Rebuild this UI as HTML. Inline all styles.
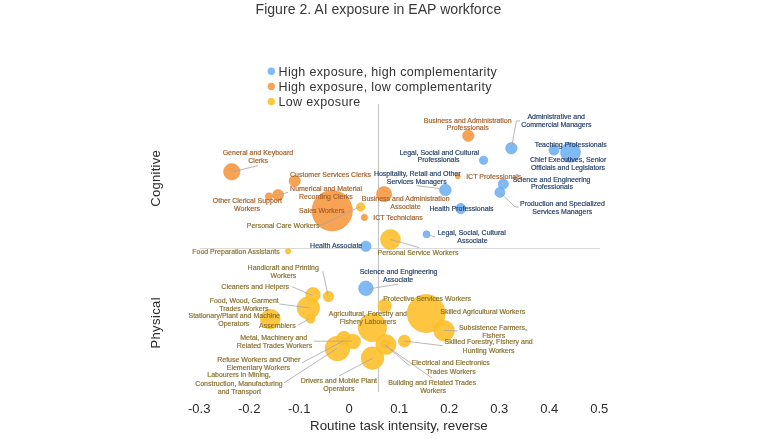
<!DOCTYPE html>
<html><head><meta charset="utf-8"><style>
html,body{margin:0;padding:0;background:#fff;width:780px;height:439px;overflow:hidden}
svg{display:block;filter:blur(0.3px)}
text{font-family:"Liberation Sans",sans-serif}
.l{font-size:7px;stroke-width:0.18px;paint-order:stroke}
</style></head><body>
<svg width="780" height="439" viewBox="0 0 780 439">
<rect width="780" height="439" fill="#fff"/>
<text x="378.4" y="13.7" text-anchor="middle" font-size="14.1" fill="#3a3a3a">Figure 2. AI exposure in EAP workforce</text>
<circle cx="271.3" cy="71.2" r="3.7" fill="#72B2F4" fill-opacity="0.9"/>
<text x="278.5" y="75.5" font-size="12.5" letter-spacing="0.35" fill="#333">High exposure, high complementarity</text>
<circle cx="271.3" cy="86.4" r="3.7" fill="#F79941" fill-opacity="0.9"/>
<text x="278.5" y="90.7" font-size="12.5" letter-spacing="0.35" fill="#333">High exposure, low complementarity</text>
<circle cx="271.3" cy="101.6" r="3.7" fill="#FEC02B" fill-opacity="0.9"/>
<text x="278.5" y="105.9" font-size="12.5" letter-spacing="0.35" fill="#333">Low exposure</text>
<line x1="199.5" y1="248.5" x2="600" y2="248.5" stroke="#DADADA" stroke-width="1"/>
<line x1="378.5" y1="104" x2="378.5" y2="392" stroke="#C4C4C4" stroke-width="1.1"/>
<circle cx="426.2" cy="313.6" r="19.0" fill="#fff"/>
<circle cx="372.4" cy="327.5" r="14.2" fill="#fff"/>
<circle cx="337.5" cy="348.5" r="12.3" fill="#fff"/>
<circle cx="344.0" cy="338.2" r="6.9" fill="#fff"/>
<circle cx="353.2" cy="341.5" r="7.3" fill="#fff"/>
<circle cx="372.5" cy="358.1" r="11.3" fill="#fff"/>
<circle cx="385.9" cy="344.6" r="10.0" fill="#fff"/>
<circle cx="384.9" cy="344.3" r="4.0" fill="#fff"/>
<circle cx="404.4" cy="341.0" r="6.0" fill="#fff"/>
<circle cx="444.1" cy="330.7" r="10.3" fill="#fff"/>
<circle cx="384.7" cy="305.8" r="6.8" fill="#fff"/>
<circle cx="308.4" cy="307.9" r="11.2" fill="#fff"/>
<circle cx="313.0" cy="294.7" r="7.2" fill="#fff"/>
<circle cx="328.4" cy="296.5" r="5.2" fill="#fff"/>
<circle cx="310.6" cy="318.7" r="4.5" fill="#fff"/>
<circle cx="270.3" cy="319.1" r="9.9" fill="#fff"/>
<circle cx="288.1" cy="251.3" r="2.7" fill="#fff"/>
<circle cx="390.5" cy="239.5" r="10.0" fill="#fff"/>
<circle cx="360.7" cy="207.0" r="4.3" fill="#fff"/>
<circle cx="332.2" cy="210.7" r="20.2" fill="#fff"/>
<circle cx="231.8" cy="171.8" r="8.2" fill="#fff"/>
<circle cx="294.7" cy="181.0" r="5.6" fill="#fff"/>
<circle cx="278.1" cy="195.0" r="5.5" fill="#fff"/>
<circle cx="269.0" cy="196.4" r="3.6" fill="#fff"/>
<circle cx="384.1" cy="194.2" r="7.6" fill="#fff"/>
<circle cx="364.4" cy="217.4" r="3.1" fill="#fff"/>
<circle cx="457.8" cy="176.3" r="2.5" fill="#fff"/>
<circle cx="468.3" cy="135.7" r="5.7" fill="#fff"/>
<circle cx="511.4" cy="148.3" r="5.7" fill="#fff"/>
<circle cx="483.6" cy="160.3" r="4.1" fill="#fff"/>
<circle cx="554.0" cy="150.1" r="5.0" fill="#fff"/>
<circle cx="570.5" cy="152.4" r="9.9" fill="#fff"/>
<circle cx="503.3" cy="184.0" r="5.1" fill="#fff"/>
<circle cx="499.9" cy="192.4" r="5.0" fill="#fff"/>
<circle cx="445.4" cy="190.0" r="5.8" fill="#fff"/>
<circle cx="460.8" cy="208.6" r="5.1" fill="#fff"/>
<circle cx="426.5" cy="234.3" r="3.5" fill="#fff"/>
<circle cx="365.8" cy="246.2" r="5.2" fill="#fff"/>
<circle cx="365.9" cy="288.3" r="7.2" fill="#fff"/>
<circle cx="426.2" cy="313.6" r="19.0" fill="#FEC02B" fill-opacity="0.9" stroke="#F7B825" stroke-width="0.6"/>
<circle cx="372.4" cy="327.5" r="14.2" fill="#FEC02B" fill-opacity="0.9" stroke="#F7B825" stroke-width="0.6"/>
<circle cx="337.5" cy="348.5" r="12.3" fill="#FEC02B" fill-opacity="0.9" stroke="#F7B825" stroke-width="0.6"/>
<circle cx="344.0" cy="338.2" r="6.9" fill="#FEC02B" fill-opacity="0.9" stroke="#F7B825" stroke-width="0.6"/>
<circle cx="353.2" cy="341.5" r="7.3" fill="#FEC02B" fill-opacity="0.9" stroke="#F7B825" stroke-width="0.6"/>
<circle cx="372.5" cy="358.1" r="11.3" fill="#FEC02B" fill-opacity="0.9" stroke="#F7B825" stroke-width="0.6"/>
<circle cx="385.9" cy="344.6" r="10.0" fill="#FEC02B" fill-opacity="0.9" stroke="#F7B825" stroke-width="0.6"/>
<circle cx="384.9" cy="344.3" r="4.0" fill="#FEC02B" fill-opacity="0.9" stroke="#F7B825" stroke-width="0.6"/>
<circle cx="404.4" cy="341.0" r="6.0" fill="#FEC02B" fill-opacity="0.9" stroke="#F7B825" stroke-width="0.6"/>
<circle cx="444.1" cy="330.7" r="10.3" fill="#FEC02B" fill-opacity="0.9" stroke="#F7B825" stroke-width="0.6"/>
<circle cx="384.7" cy="305.8" r="6.8" fill="#FEC02B" fill-opacity="0.9" stroke="#F7B825" stroke-width="0.6"/>
<circle cx="308.4" cy="307.9" r="11.2" fill="#FEC02B" fill-opacity="0.9" stroke="#F7B825" stroke-width="0.6"/>
<circle cx="313.0" cy="294.7" r="7.2" fill="#FEC02B" fill-opacity="0.9" stroke="#F7B825" stroke-width="0.6"/>
<circle cx="328.4" cy="296.5" r="5.2" fill="#FEC02B" fill-opacity="0.9" stroke="#F7B825" stroke-width="0.6"/>
<circle cx="310.6" cy="318.7" r="4.5" fill="#FEC02B" fill-opacity="0.9" stroke="#F7B825" stroke-width="0.6"/>
<circle cx="270.3" cy="319.1" r="9.9" fill="#FEC02B" fill-opacity="0.9" stroke="#F7B825" stroke-width="0.6"/>
<circle cx="288.1" cy="251.3" r="2.7" fill="#FEC02B" fill-opacity="0.9" stroke="#F7B825" stroke-width="0.6"/>
<circle cx="390.5" cy="239.5" r="10.0" fill="#FEC02B" fill-opacity="0.9" stroke="#F7B825" stroke-width="0.6"/>
<circle cx="360.7" cy="207.0" r="4.3" fill="#FEC02B" fill-opacity="0.9" stroke="#F7B825" stroke-width="0.6"/>
<circle cx="332.2" cy="210.7" r="20.2" fill="#F79941" fill-opacity="0.9" stroke="#F0903A" stroke-width="0.6"/>
<circle cx="231.8" cy="171.8" r="8.2" fill="#F79941" fill-opacity="0.9" stroke="#F0903A" stroke-width="0.6"/>
<circle cx="294.7" cy="181.0" r="5.6" fill="#F79941" fill-opacity="0.9" stroke="#F0903A" stroke-width="0.6"/>
<circle cx="278.1" cy="195.0" r="5.5" fill="#F79941" fill-opacity="0.9" stroke="#F0903A" stroke-width="0.6"/>
<circle cx="269.0" cy="196.4" r="3.6" fill="#F79941" fill-opacity="0.9" stroke="#F0903A" stroke-width="0.6"/>
<circle cx="384.1" cy="194.2" r="7.6" fill="#F79941" fill-opacity="0.9" stroke="#F0903A" stroke-width="0.6"/>
<circle cx="364.4" cy="217.4" r="3.1" fill="#F79941" fill-opacity="0.9" stroke="#F0903A" stroke-width="0.6"/>
<circle cx="457.8" cy="176.3" r="2.5" fill="#F79941" fill-opacity="0.9" stroke="#F0903A" stroke-width="0.6"/>
<circle cx="468.3" cy="135.7" r="5.7" fill="#F79941" fill-opacity="0.9" stroke="#F0903A" stroke-width="0.6"/>
<circle cx="511.4" cy="148.3" r="5.7" fill="#72B2F4" fill-opacity="0.9" stroke="#62A5EC" stroke-width="0.6"/>
<circle cx="483.6" cy="160.3" r="4.1" fill="#72B2F4" fill-opacity="0.9" stroke="#62A5EC" stroke-width="0.6"/>
<circle cx="554.0" cy="150.1" r="5.0" fill="#72B2F4" fill-opacity="0.9" stroke="#62A5EC" stroke-width="0.6"/>
<circle cx="570.5" cy="152.4" r="9.9" fill="#72B2F4" fill-opacity="0.9" stroke="#62A5EC" stroke-width="0.6"/>
<circle cx="503.3" cy="184.0" r="5.1" fill="#72B2F4" fill-opacity="0.9" stroke="#62A5EC" stroke-width="0.6"/>
<circle cx="499.9" cy="192.4" r="5.0" fill="#72B2F4" fill-opacity="0.9" stroke="#62A5EC" stroke-width="0.6"/>
<circle cx="445.4" cy="190.0" r="5.8" fill="#72B2F4" fill-opacity="0.9" stroke="#62A5EC" stroke-width="0.6"/>
<circle cx="460.8" cy="208.6" r="5.1" fill="#72B2F4" fill-opacity="0.9" stroke="#62A5EC" stroke-width="0.6"/>
<circle cx="426.5" cy="234.3" r="3.5" fill="#72B2F4" fill-opacity="0.9" stroke="#62A5EC" stroke-width="0.6"/>
<circle cx="365.8" cy="246.2" r="5.2" fill="#72B2F4" fill-opacity="0.9" stroke="#62A5EC" stroke-width="0.6"/>
<circle cx="365.9" cy="288.3" r="7.2" fill="#72B2F4" fill-opacity="0.9" stroke="#62A5EC" stroke-width="0.6"/>
<polyline points="232,172 258,165.6" fill="none" stroke="#A6A6A6" stroke-width="0.8"/>
<polyline points="278,195 288.2,192.3" fill="none" stroke="#A6A6A6" stroke-width="0.8"/>
<polyline points="320,225.6 360.5,206.5" fill="none" stroke="#A6A6A6" stroke-width="0.8"/>
<polyline points="416.7,185.6 440.3,188.7" fill="none" stroke="#A6A6A6" stroke-width="0.8"/>
<polyline points="511.4,148 516.4,121 520,120.9" fill="none" stroke="#A6A6A6" stroke-width="0.8"/>
<polyline points="499.9,192.4 514.7,206.7 518.8,207.2" fill="none" stroke="#A6A6A6" stroke-width="0.8"/>
<polyline points="428,234.9 435.1,236.9" fill="none" stroke="#A6A6A6" stroke-width="0.8"/>
<polyline points="390.5,239.5 419.2,247.6" fill="none" stroke="#A6A6A6" stroke-width="0.8"/>
<polyline points="369.5,288.8 398.2,284.1" fill="none" stroke="#A6A6A6" stroke-width="0.8"/>
<polyline points="291.8,286.6 312.3,295.4" fill="none" stroke="#A6A6A6" stroke-width="0.8"/>
<polyline points="279.5,304 309,307.9" fill="none" stroke="#A6A6A6" stroke-width="0.8"/>
<polyline points="322.8,271.2 327.9,294.4" fill="none" stroke="#A6A6A6" stroke-width="0.8"/>
<polyline points="298.1,325 309.5,318.7" fill="none" stroke="#A6A6A6" stroke-width="0.8"/>
<polyline points="314,341.2 352,341.2" fill="none" stroke="#A6A6A6" stroke-width="0.8"/>
<polyline points="302.1,362.8 344,340.5" fill="none" stroke="#A6A6A6" stroke-width="0.8"/>
<polyline points="283.9,382.9 337,348.5" fill="none" stroke="#A6A6A6" stroke-width="0.8"/>
<polyline points="338.9,376 372.5,358.3" fill="none" stroke="#A6A6A6" stroke-width="0.8"/>
<polyline points="384.5,344.4 410,366.2" fill="none" stroke="#A6A6A6" stroke-width="0.8"/>
<polyline points="385.5,345.5 432.2,378.1" fill="none" stroke="#A6A6A6" stroke-width="0.8"/>
<polyline points="404.4,341 442.5,345.7" fill="none" stroke="#A6A6A6" stroke-width="0.8"/>
<polyline points="443.8,330.3 457.9,331" fill="none" stroke="#A6A6A6" stroke-width="0.8"/>
<text class="l" x="556.2" y="119.2" text-anchor="middle" fill="#223D68" stroke="#223D68">Administrative and</text>
<text class="l" x="556.4" y="127.2" text-anchor="middle" fill="#223D68" stroke="#223D68">Commercial Managers</text>
<text class="l" x="570.7" y="147.3" text-anchor="middle" fill="#223D68" stroke="#223D68">Teaching Professionals</text>
<text class="l" x="568.2" y="162.3" text-anchor="middle" fill="#223D68" stroke="#223D68">Chief Executives, Senior</text>
<text class="l" x="568" y="169.8" text-anchor="middle" fill="#223D68" stroke="#223D68">Officials and Legislators</text>
<text class="l" x="439.3" y="154.7" text-anchor="middle" fill="#223D68" stroke="#223D68">Legal, Social and Cultural</text>
<text class="l" x="438.5" y="162.3" text-anchor="middle" fill="#223D68" stroke="#223D68">Professionals</text>
<text class="l" x="417.2" y="175.7" text-anchor="middle" fill="#223D68" stroke="#223D68">Hospitality, Retail and Other</text>
<text class="l" x="416.7" y="183.5" text-anchor="middle" fill="#223D68" stroke="#223D68">Services Managers</text>
<text class="l" x="551.6" y="181.7" text-anchor="middle" fill="#223D68" stroke="#223D68">Science and Engineering</text>
<text class="l" x="551.9" y="189.0" text-anchor="middle" fill="#223D68" stroke="#223D68">Professionals</text>
<text class="l" x="562.4" y="205.9" text-anchor="middle" fill="#223D68" stroke="#223D68">Production and Specialized</text>
<text class="l" x="562.3" y="214.1" text-anchor="middle" fill="#223D68" stroke="#223D68">Services Managers</text>
<text class="l" x="461.5" y="211.3" text-anchor="middle" fill="#223D68" stroke="#223D68">Health Professionals</text>
<text class="l" x="471.7" y="234.9" text-anchor="middle" fill="#223D68" stroke="#223D68">Legal, Social, Cultural</text>
<text class="l" x="472.4" y="242.7" text-anchor="middle" fill="#223D68" stroke="#223D68">Associate</text>
<text class="l" x="336.2" y="248.4" text-anchor="middle" fill="#223D68" stroke="#223D68">Health Associate</text>
<text class="l" x="398.6" y="274.3" text-anchor="middle" fill="#223D68" stroke="#223D68">Science and Engineering</text>
<text class="l" x="398.1" y="281.8" text-anchor="middle" fill="#223D68" stroke="#223D68">Associate</text>
<text class="l" x="467.7" y="122.5" text-anchor="middle" fill="#A35E2A" stroke="#A35E2A">Business and Administration</text>
<text class="l" x="467.8" y="129.5" text-anchor="middle" fill="#A35E2A" stroke="#A35E2A">Professionals</text>
<text class="l" x="493.7" y="179.1" text-anchor="middle" fill="#A35E2A" stroke="#A35E2A">ICT Professionals</text>
<text class="l" x="257.9" y="155.2" text-anchor="middle" fill="#A35E2A" stroke="#A35E2A">General and Keyboard</text>
<text class="l" x="258.2" y="163.0" text-anchor="middle" fill="#A35E2A" stroke="#A35E2A">Clerks</text>
<text class="l" x="330.5" y="176.9" text-anchor="middle" fill="#A35E2A" stroke="#A35E2A">Customer Services Clerks</text>
<text class="l" x="326.1" y="191.4" text-anchor="middle" fill="#A35E2A" stroke="#A35E2A">Numerical and Material</text>
<text class="l" x="325.9" y="199.4" text-anchor="middle" fill="#A35E2A" stroke="#A35E2A">Recording Clerks</text>
<text class="l" x="247.4" y="203.0" text-anchor="middle" fill="#A35E2A" stroke="#A35E2A">Other Clerical Support</text>
<text class="l" x="247" y="210.6" text-anchor="middle" fill="#A35E2A" stroke="#A35E2A">Workers</text>
<text class="l" x="321.8" y="212.8" text-anchor="middle" fill="#A35E2A" stroke="#A35E2A">Sales Workers</text>
<text class="l" x="405.7" y="200.5" text-anchor="middle" fill="#A35E2A" stroke="#A35E2A">Business and Administration</text>
<text class="l" x="405.4" y="208.7" text-anchor="middle" fill="#A35E2A" stroke="#A35E2A">Associate</text>
<text class="l" x="398" y="220.3" text-anchor="middle" fill="#A35E2A" stroke="#A35E2A">ICT Technicians</text>
<text class="l" x="283.1" y="228.2" text-anchor="middle" fill="#88702C" stroke="#88702C">Personal Care Workers</text>
<text class="l" x="418" y="254.5" text-anchor="middle" fill="#88702C" stroke="#88702C">Personal Service Workers</text>
<text class="l" x="236" y="254.2" text-anchor="middle" fill="#88702C" stroke="#88702C">Food Preparation Assistants</text>
<text class="l" x="283.2" y="270.1" text-anchor="middle" fill="#88702C" stroke="#88702C">Handicraft and Printing</text>
<text class="l" x="283.4" y="277.7" text-anchor="middle" fill="#88702C" stroke="#88702C">Workers</text>
<text class="l" x="255.2" y="289.2" text-anchor="middle" fill="#88702C" stroke="#88702C">Cleaners and Helpers</text>
<text class="l" x="244.2" y="303.1" text-anchor="middle" fill="#88702C" stroke="#88702C">Food, Wood, Garment</text>
<text class="l" x="243.9" y="310.6" text-anchor="middle" fill="#88702C" stroke="#88702C">Trades Workers</text>
<text class="l" x="234.2" y="317.5" text-anchor="middle" fill="#88702C" stroke="#88702C">Stationary/Plant and Machine</text>
<text class="l" x="233.8" y="326.0" text-anchor="middle" fill="#88702C" stroke="#88702C">Operators</text>
<text class="l" x="277.4" y="327.7" text-anchor="middle" fill="#88702C" stroke="#88702C">Assemblers</text>
<text class="l" x="273.7" y="340.4" text-anchor="middle" fill="#88702C" stroke="#88702C">Metal, Machinery and</text>
<text class="l" x="274.5" y="348.4" text-anchor="middle" fill="#88702C" stroke="#88702C">Related Trades Workers</text>
<text class="l" x="258.8" y="361.7" text-anchor="middle" fill="#88702C" stroke="#88702C">Refuse Workers and Other</text>
<text class="l" x="258.4" y="369.9" text-anchor="middle" fill="#88702C" stroke="#88702C">Elementary Workers</text>
<text class="l" x="239" y="377.2" text-anchor="middle" fill="#88702C" stroke="#88702C">Labourers in Mining,</text>
<text class="l" x="238.9" y="385.9" text-anchor="middle" fill="#88702C" stroke="#88702C">Construction, Manufacturing</text>
<text class="l" x="239.4" y="393.6" text-anchor="middle" fill="#88702C" stroke="#88702C">and Transport</text>
<text class="l" x="338.9" y="383.0" text-anchor="middle" fill="#88702C" stroke="#88702C">Drivers and Mobile Plant</text>
<text class="l" x="338.9" y="390.9" text-anchor="middle" fill="#88702C" stroke="#88702C">Operators</text>
<text class="l" x="367.9" y="315.9" text-anchor="middle" fill="#88702C" stroke="#88702C">Agricultural, Forestry and</text>
<text class="l" x="368" y="323.9" text-anchor="middle" fill="#88702C" stroke="#88702C">Fishery Labourers</text>
<text class="l" x="427.1" y="301.4" text-anchor="middle" fill="#88702C" stroke="#88702C">Protective Services Workers</text>
<text class="l" x="482.8" y="314.3" text-anchor="middle" fill="#88702C" stroke="#88702C">Skilled Agricultural Workers</text>
<text class="l" x="493" y="330.1" text-anchor="middle" fill="#88702C" stroke="#88702C">Subsistence Farmers,</text>
<text class="l" x="493.7" y="337.6" text-anchor="middle" fill="#88702C" stroke="#88702C">Fishers</text>
<text class="l" x="488.6" y="344.3" text-anchor="middle" fill="#88702C" stroke="#88702C">Skilled Forestry, Fishery and</text>
<text class="l" x="488.6" y="352.9" text-anchor="middle" fill="#88702C" stroke="#88702C">Hunting Workers</text>
<text class="l" x="450.7" y="365.2" text-anchor="middle" fill="#88702C" stroke="#88702C">Electrical and Electronics</text>
<text class="l" x="451" y="373.8" text-anchor="middle" fill="#88702C" stroke="#88702C">Trades Workers</text>
<text class="l" x="432.3" y="385.4" text-anchor="middle" fill="#88702C" stroke="#88702C">Building and Related Trades</text>
<text class="l" x="433.1" y="393.3" text-anchor="middle" fill="#88702C" stroke="#88702C">Workers</text>
<text x="199.2" y="413" text-anchor="middle" font-size="13" fill="#2b2b2b">-0.3</text>
<text x="249.2" y="413" text-anchor="middle" font-size="13" fill="#2b2b2b">-0.2</text>
<text x="299.2" y="413" text-anchor="middle" font-size="13" fill="#2b2b2b">-0.1</text>
<text x="349.2" y="413" text-anchor="middle" font-size="13" fill="#2b2b2b">0</text>
<text x="399.2" y="413" text-anchor="middle" font-size="13" fill="#2b2b2b">0.1</text>
<text x="449.2" y="413" text-anchor="middle" font-size="13" fill="#2b2b2b">0.2</text>
<text x="499.2" y="413" text-anchor="middle" font-size="13" fill="#2b2b2b">0.3</text>
<text x="549.2" y="413" text-anchor="middle" font-size="13" fill="#2b2b2b">0.4</text>
<text x="599.2" y="413" text-anchor="middle" font-size="13" fill="#2b2b2b">0.5</text>
<text x="398.9" y="430" text-anchor="middle" font-size="13.35" fill="#2b2b2b">Routine task intensity, reverse</text>
<text transform="translate(160.0,178.3) rotate(-90)" text-anchor="middle" font-size="13" letter-spacing="0.3" fill="#2b2b2b">Cognitive</text>
<text transform="translate(159.9,322.8) rotate(-90)" text-anchor="middle" font-size="13" letter-spacing="0.4" fill="#2b2b2b">Physical</text>
</svg></body></html>
